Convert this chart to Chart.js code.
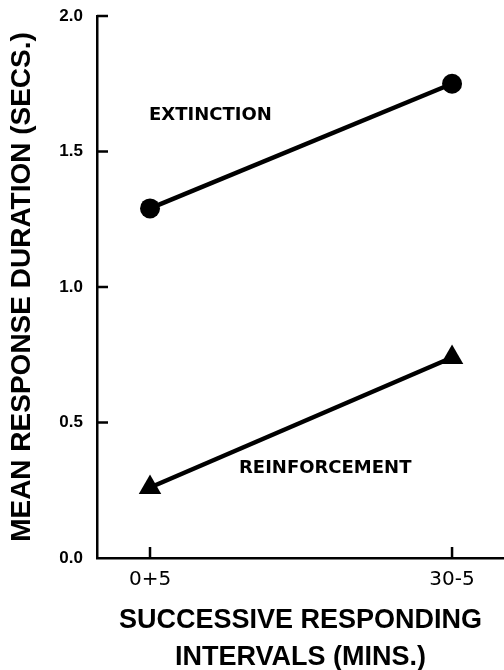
<!DOCTYPE html>
<html><head><meta charset="utf-8">
<script src="https://cdn.jsdelivr.net/npm/chart.js@4"></script>
<style>html,body{margin:0;padding:0;background:#fff}</style>
</head><body>
<canvas id="c" width="504" height="670"></canvas>
<script>
// ---- data ----
const categories = ['0+5', '30-5'];
const extinction = [1.29, 1.75];
const reinforcement = [0.26, 0.74];
const yTicks = [0.0, 0.5, 1.0, 1.5, 2.0];
const seriesNames = ['EXTINCTION', 'REINFORCEMENT'];
const yTitle = 'MEAN RESPONSE DURATION (SECS.)';
const xTitle = ['SUCCESSIVE RESPONDING', 'INTERVALS (MINS.)'];

const toPts = arr => arr.map((v, i) => ({x: i, y: v}));

// inward tick marks drawn through the scales
const innerTicks = {
  id: 'innerTicks',
  beforeDatasetsDraw(chart) {
    const {ctx, chartArea: a, scales: {x, y}} = chart;
    ctx.save();
    ctx.strokeStyle = '#000';
    ctx.lineWidth = 2.5;
    ctx.beginPath();
    yTicks.forEach(v => {
      if (v === 0) return;
      const py = y.getPixelForValue(v);
      ctx.moveTo(a.left, py); ctx.lineTo(a.left + 11, py);
    });
    categories.forEach((c, i) => {
      const px = x.getPixelForValue(i);
      ctx.moveTo(px, a.bottom); ctx.lineTo(px, a.bottom - 11);
    });
    ctx.stroke();
    ctx.restore();
  }
};

// series name labels placed in data coordinates
const seriesLabels = {
  id: 'seriesLabels',
  afterDatasetsDraw(chart, args, opts) {
    const {ctx, scales: {x, y}} = chart;
    ctx.save();
    ctx.fillStyle = '#000';
    ctx.font = 'bold 18px "DejaVu Sans"';
    ctx.textAlign = 'center';
    ctx.textBaseline = 'middle';
    opts.anchors.forEach((p, i) => {
      ctx.fillText(seriesNames[i], x.getPixelForValue(p[0]), y.getPixelForValue(p[1]));
    });
    ctx.restore();
  }
};

new Chart(document.getElementById('c'), {
  type: 'line',
  data: {
    datasets: [
      {
        label: seriesNames[0],
        data: toPts(extinction),
        borderColor: '#000',
        backgroundColor: '#000',
        borderWidth: 4.5,
        pointStyle: 'circle',
        pointRadius: 10,
        pointBackgroundColor: '#000',
        pointBorderColor: '#000',
        pointBorderWidth: 0
      },
      {
        label: seriesNames[1],
        data: toPts(reinforcement),
        borderColor: '#000',
        backgroundColor: '#000',
        borderWidth: 4.5,
        pointStyle: 'triangle',
        pointRadius: 13,
        pointBackgroundColor: '#000',
        pointBorderColor: '#000',
        pointBorderWidth: 0
      }
    ]
  },
  options: {
    responsive: false,
    animation: false,
    layout: {autoPadding: false, padding: {top: 16, right: 0, left: 0, bottom: 0}},
    plugins: {
      legend: {display: false},
      tooltip: {enabled: false},
      seriesLabels: {anchors: [[0.2, 1.632], [0.58, 0.33]]}
    },
    scales: {
      x: {
        type: 'linear',
        min: -0.1755,
        max: 1.172,
        afterBuildTicks: s => { s.ticks = categories.map((c, i) => ({value: i})); },
        afterFit: s => { s.height = 112; s.paddingLeft = 0; s.paddingRight = 0; },
        grid: {display: false, drawTicks: false},
        border: {display: true, color: '#000', width: 2.5},
        ticks: {
          color: '#000',
          padding: 10,
          font: {family: '"DejaVu Sans"', size: 20},
          callback: v => categories[v]
        },
        title: {
          display: true,
          text: xTitle,
          color: '#000',
          font: {family: '"Liberation Sans"', size: 27, weight: 'bold', lineHeight: '37px'},
          padding: {top: 0, bottom: -6}
        }
      },
      y: {
        min: 0,
        max: 2,
        afterBuildTicks: s => { s.ticks = yTicks.map(v => ({value: v})); },
        afterFit: s => { s.width = 97; s.paddingTop = 0; s.paddingBottom = 0; },
        grid: {display: false, drawTicks: false},
        border: {display: true, color: '#000', width: 2.5},
        ticks: {
          color: '#000',
          padding: 14,
          font: {family: '"Liberation Sans"', size: 17, weight: 'bold'},
          callback: v => v.toFixed(1)
        },
        title: {
          display: true,
          text: yTitle,
          color: '#000',
          font: {family: '"Liberation Sans"', size: 28, weight: 'bold', lineHeight: 1.2},
          padding: {top: 5, bottom: 0}
        }
      }
    }
  },
  plugins: [innerTicks, seriesLabels]
});
</script>
</body></html>
